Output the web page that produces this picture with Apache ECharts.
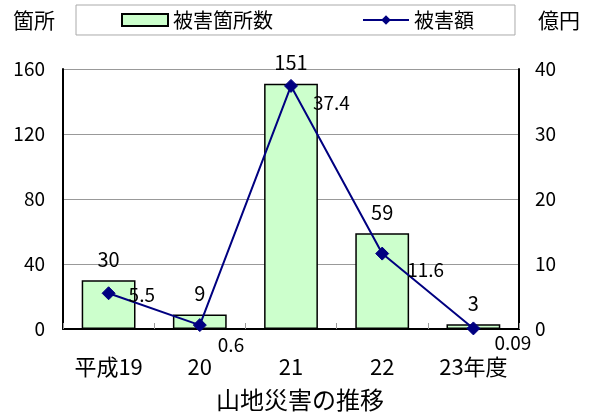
<!DOCTYPE html>
<html>
<head>
<meta charset="utf-8">
<script src="https://cdn.jsdelivr.net/npm/echarts@6/dist/echarts.min.js"></script>
<style>html,body{margin:0;padding:0;background:#fff;}#c{width:590px;height:416px;}</style>
</head>
<body>
<div id="c"></div>
<script>
var categories = ['平成19', '20', '21', '22', '23年度'];
var countValues = [30, 9, 151, 59, 3];
var amountValues = [5.5, 0.6, 37.4, 11.6, 0.09];
var leftTicks = [0, 40, 80, 120, 160];
var rightTicks = [0, 10, 20, 30, 40];
var amountLabelOffsets = [[8, 2], [6, 20], [10, 17], [13, 16], [9, 14]];

var FONT = '"Noto Sans CJK JP", "Noto Sans", sans-serif';
var chart = echarts.init(document.getElementById('c'), null, {renderer: 'canvas'});

chart.setOption({
  animation: false,
  backgroundColor: '#fff',
  textStyle: {fontFamily: FONT, color: '#000'},
  title: {
    text: '山地災害の推移',
    left: 216,
    top: 388,
    padding: 0,
    textStyle: {fontFamily: FONT, fontSize: 24, fontWeight: 'normal', color: '#000'}
  },
  legend: {
    left: 76,
    top: 5,
    padding: [5, 41, 5, 45],
    borderColor: '#aaa',
    borderWidth: 1,
    itemWidth: 46,
    itemHeight: 12,
    itemGap: 89,
    textStyle: {fontFamily: FONT, fontSize: 20, color: '#000'},
    data: [{name: '被害箇所数', icon: 'rect'}, {name: '被害額'}]
  },
  grid: {left: 63, right: 71, top: 69, bottom: 87, containLabel: false},
  xAxis: {
    type: 'category',
    data: categories,
    axisLine: {lineStyle: {color: '#000', width: 2}},
    axisTick: {show: true, inside: true, length: 6, lineStyle: {color: '#999'}},
    axisLabel: {fontFamily: FONT, fontSize: 22, color: '#000', margin: 27}
  },
  yAxis: [{
    type: 'value',
    min: leftTicks[0],
    max: leftTicks[leftTicks.length - 1],
    interval: leftTicks[1] - leftTicks[0],
    name: '箇所',
    nameLocation: 'end',
    nameGap: 38,
    nameTextStyle: {fontFamily: FONT, fontSize: 21, color: '#000', align: 'right', padding: [0, 8, 0, 0]},
    axisLine: {show: true, lineStyle: {color: '#000', width: 2}},
    axisTick: {show: false},
    splitLine: {lineStyle: {color: '#999', width: 1}},
    axisLabel: {fontFamily: FONT, fontSize: 19, color: '#000', margin: 18}
  }, {
    type: 'value',
    min: rightTicks[0],
    max: rightTicks[rightTicks.length - 1],
    interval: rightTicks[1] - rightTicks[0],
    name: '億円',
    nameLocation: 'end',
    nameGap: 38,
    nameTextStyle: {fontFamily: FONT, fontSize: 21, color: '#000', align: 'left', padding: [0, 0, 0, 19]},
    axisLine: {show: true, lineStyle: {color: '#000', width: 2}},
    axisTick: {show: false},
    splitLine: {show: false},
    axisLabel: {fontFamily: FONT, fontSize: 19, color: '#000', margin: 16}
  }],
  series: [{
    name: '被害箇所数',
    type: 'bar',
    yAxisIndex: 0,
    data: countValues,
    barCategoryGap: '41%',
    itemStyle: {color: '#CCFFCC', borderColor: '#000', borderWidth: 1.5},
    label: {show: true, position: 'top', distance: 11, fontFamily: FONT, fontSize: 20, color: '#000'},
    z: 2
  }, {
    name: '被害額',
    type: 'line',
    yAxisIndex: 1,
    data: amountValues.map(function (v, i) {
      return {value: v, label: {offset: amountLabelOffsets[i]}};
    }),
    symbol: 'diamond',
    symbolSize: 13,
    lineStyle: {color: '#000080', width: 2},
    itemStyle: {color: '#000080', borderColor: '#000080'},
    label: {show: true, position: 'right', distance: 5, fontFamily: FONT, fontSize: 19, color: '#000'},
    z: 3
  }]
});
</script>
</body>
</html>
